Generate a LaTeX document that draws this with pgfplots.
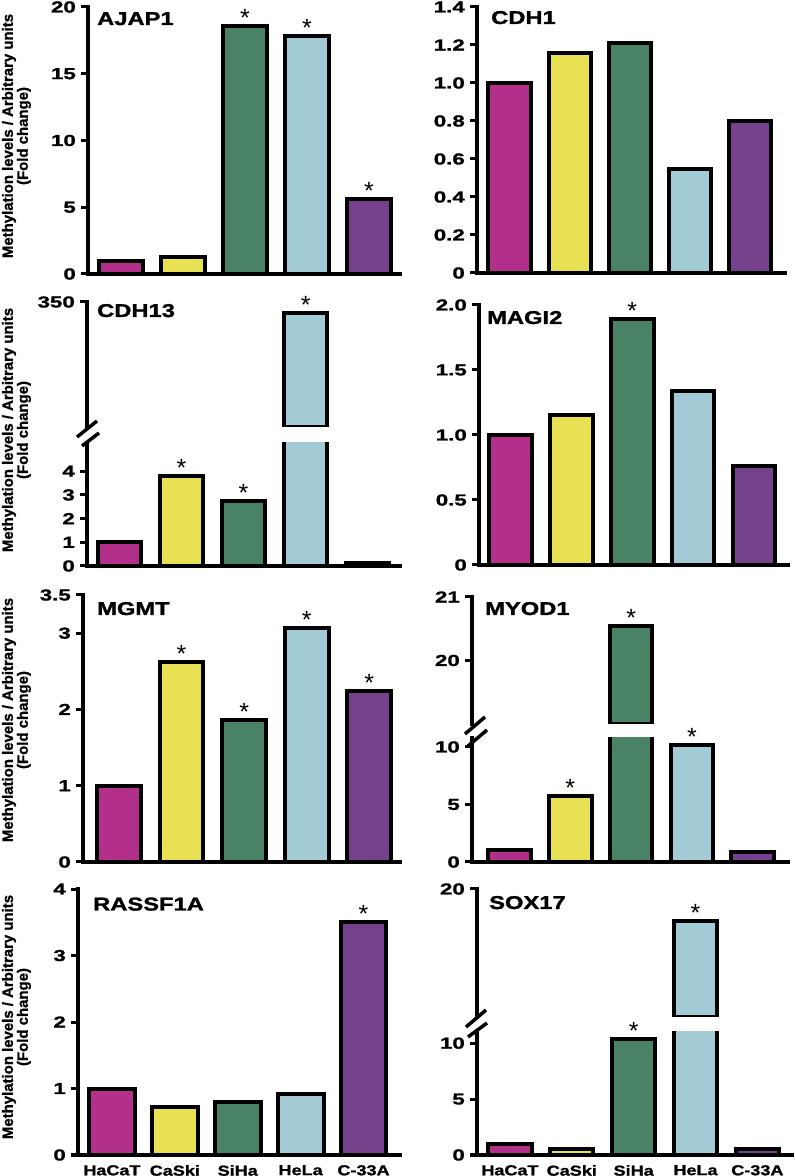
\documentclass[border=0pt]{standalone}
\usepackage{fontspec}
\setmainfont{Liberation Sans}
\newfontfamily\tickfont{Liberation Sans}[FakeStretch=1.4, FakeBold=1.2]
\newfontfamily\titlefont{Liberation Sans}[FakeStretch=1.28, FakeBold=1.5]
\newfontfamily\catfont{Liberation Sans}[FakeStretch=1.25, FakeBold=1.3]
\newfontfamily\labfont{Liberation Sans}[FakeBold=1.2]
\newfontfamily\astfont{Liberation Sans}
\usepackage{pgfplots}
\pgfplotsset{compat=1.18}
\definecolor{cHa}{RGB}{178,47,138}
\definecolor{cCa}{RGB}{232,225,84}
\definecolor{cSi}{RGB}{74,130,102}
\definecolor{cHe}{RGB}{162,203,213}
\definecolor{cC3}{RGB}{118,65,140}
\pgfplotsset{
  panel/.style={
    scale only axis, anchor=south west,
    axis x line=bottom, axis y line=left,
    axis line style={line width=4bp, -, line cap=rect},
    tick style={black, line width=3bp},
    major tick length=7bp, tick align=outside,
    xtick=\empty,
    yticklabel style={font=\tickfont\bfseries\fontsize{16}{16}\selectfont, inner sep=0pt, xshift=-5bp},
    /pgf/number format/assume math mode=true,
  },
  upper/.style={panel, axis x line=none},
  bottomrow/.style={xtick={0,1,2,3,4}, xticklabels={HaCaT,CaSki,SiHa,HeLa,C-33A},
    xtick style={draw=none},
    xticklabel style={font=\catfont\bfseries\fontsize{14.5}{14.5}\selectfont, inner sep=0pt, anchor=north, yshift=-3bp}},
  mybar/.style={ybar, bar width=0.70, bar shift=0pt, draw=black, line width=4bp, fill=#1},
  ast/.style={nodes near coords={*}, every node near coord/.append style={font=\astfont\fontsize{25}{25}\selectfont, inner sep=0pt, anchor=south, yshift=-2.5bp, text=black}},
}
\newcommand{\ttl}[3]{\node[anchor=base west, inner sep=0pt, font=\titlefont\bfseries\fontsize{18.6}{18.6}\selectfont] at (#1bp,#2bp) {#3};}
\newcommand{\ylab}[1]{\node[rotate=90, align=center, inner sep=0pt, font=\labfont\bfseries\fontsize{15}{15}\selectfont] at (16.5bp,#1bp) {Methylation levels / Arbitrary units\\(Fold change)};}
\begin{document}
\begin{tikzpicture}
\useasboundingbox (0bp,0bp) rectangle (795bp,1176bp);

% ---------- AJAP1
\begin{axis}[panel, at={(88bp,902bp)}, width=312bp, height=267bp, xmin=-0.53, xmax=4.5,
  ymin=0, ymax=20, ytick={0,5,10,15,20}, yticklabels={0,5,10,15,20}]
\addplot[mybar=cHa] coordinates {(0,1.0)};
\addplot[mybar=cCa] coordinates {(1,1.28)};
\addplot[mybar=cSi, ast] coordinates {(2,18.6)};
\addplot[mybar=cHe, ast] coordinates {(3,17.8)};
\addplot[mybar=cC3, ast] coordinates {(4,5.65)};
\end{axis}
\ttl{97}{1151}{AJAP1}
\ylab{1040}

% ---------- CDH1
\begin{axis}[panel, at={(477bp,903bp)}, width=308bp, height=266bp, xmin=-0.54, xmax=4.58,
  ymin=0, ymax=1.4, ytick={0,0.2,0.4,0.6,0.8,1.0,1.2,1.4}, yticklabels={0,0.2,0.4,0.6,0.8,1.0,1.2,1.4}]
\addplot[mybar=cHa] coordinates {(0,1.0)};
\addplot[mybar=cCa] coordinates {(1,1.16)};
\addplot[mybar=cSi] coordinates {(2,1.21)};
\addplot[mybar=cHe] coordinates {(3,0.545)};
\addplot[mybar=cC3] coordinates {(4,0.80)};
\end{axis}
\ttl{491}{1152}{CDH1}

% ---------- CDH13 (broken)
\begin{axis}[panel, at={(87bp,610bp)}, width=313bp, height=123bp, xmin=-0.523, xmax=4.52,
  ymin=0, ymax=5.19, ytick={0,1,2,3,4}, yticklabels={0,1,2,3,4}]
\addplot[mybar=cHa] coordinates {(0,1.0)};
\addplot[mybar=cCa, ast] coordinates {(1,3.78)};
\addplot[mybar=cSi, ast] coordinates {(2,2.75)};
\addplot[mybar=cHe] coordinates {(3,328)};
\addplot[mybar=cC3] coordinates {(4,0.12)};
\end{axis}
\begin{axis}[upper, at={(87bp,749bp)}, width=313bp, height=125bp, xmin=-0.523, xmax=4.52,
  ymin=100, ymax=350, ytick={350}, yticklabels={350}]
\addplot[mybar=cHe, ast] coordinates {(3,328)};
\end{axis}
\draw[line width=3.5bp] (77bp,739bp) -- (97bp,755bp);
\draw[line width=3.5bp] (82bp,730bp) -- (99bp,743bp);
\ttl{97}{859}{CDH13}
\ylab{746}

% ---------- MAGI2
\begin{axis}[panel, at={(479bp,611bp)}, width=309bp, height=260bp, xmin=-0.517, xmax=4.56,
  ymin=0, ymax=2, ytick={0,0.5,1,1.5,2}, yticklabels={0,0.5,1.0,1.5,2.0}]
\addplot[mybar=cHa] coordinates {(0,1.0)};
\addplot[mybar=cCa] coordinates {(1,1.155)};
\addplot[mybar=cSi, ast] coordinates {(2,1.895)};
\addplot[mybar=cHe] coordinates {(3,1.34)};
\addplot[mybar=cC3] coordinates {(4,0.765)};
\end{axis}
\ttl{487}{852}{MAGI2}

% ---------- MGMT
\begin{axis}[panel, at={(83bp,314bp)}, width=317bp, height=267bp, xmin=-0.575, xmax=4.49,
  ymin=0, ymax=3.5, ytick={0,1,2,3,3.5}, yticklabels={0,1,2,3,3.5}]
\addplot[mybar=cHa] coordinates {(0,1.0)};
\addplot[mybar=cCa, ast] coordinates {(1,2.62)};
\addplot[mybar=cSi, ast] coordinates {(2,1.86)};
\addplot[mybar=cHe, ast] coordinates {(3,3.07)};
\addplot[mybar=cC3, ast] coordinates {(4,2.24)};
\end{axis}
\ttl{97}{561}{MGMT}
\ylab{456}

% ---------- MYOD1 (broken)
\begin{axis}[panel, at={(472bp,314bp)}, width=316bp, height=124bp, xmin=-0.617, xmax=4.58,
  ymin=0, ymax=10.78, ytick={0,5,10}, yticklabels={0,5,10}]
\addplot[mybar=cHa] coordinates {(0,1.0)};
\addplot[mybar=cCa, ast] coordinates {(1,5.7)};
\addplot[mybar=cSi] coordinates {(2,20.54)};
\addplot[mybar=cHe, ast] coordinates {(3,10.2)};
\addplot[mybar=cC3] coordinates {(4,0.9)};
\end{axis}
\begin{axis}[upper, at={(472bp,452bp)}, width=316bp, height=127bp, xmin=-0.617, xmax=4.58,
  ymin=19, ymax=21, ytick={20,21}, yticklabels={20,21}]
\addplot[mybar=cSi, ast] coordinates {(2,20.54)};
\end{axis}
\draw[line width=3.5bp] (465bp,442bp) -- (485bp,459bp);
\draw[line width=3.5bp] (468bp,430bp) -- (487bp,446bp);
\ttl{485}{561}{MYOD1}

% ---------- RASSF1A
\begin{axis}[panel, bottomrow, at={(78bp,21bp)}, width=322bp, height=266bp, xmin=-0.54, xmax=4.58,
  ymin=0, ymax=4, ytick={0,1,2,3,4}, yticklabels={0,1,2,3,4}]
\addplot[mybar=cHa, bar width=0.73] coordinates {(0,1.0)};
\addplot[mybar=cCa, bar width=0.73] coordinates {(1,0.715)};
\addplot[mybar=cSi, bar width=0.73] coordinates {(2,0.79)};
\addplot[mybar=cHe, bar width=0.73] coordinates {(3,0.914)};
\addplot[mybar=cC3, bar width=0.73, ast] coordinates {(4,3.51)};
\end{axis}
\ttl{93}{265.5}{RASSF1A}
\ylab{159}

% ---------- SOX17 (broken)
\begin{axis}[panel, bottomrow, at={(477bp,21bp)}, width=315bp, height=123bp, xmin=-0.533, xmax=4.56,
  ymin=0, ymax=11.0, ytick={0,5,10}, yticklabels={0,5,10}]
\addplot[mybar=cHa] coordinates {(0,1.0)};
\addplot[mybar=cCa] coordinates {(1,0.52)};
\addplot[mybar=cSi, ast] coordinates {(2,10.4)};
\addplot[mybar=cHe] coordinates {(3,18.0)};
\addplot[mybar=cC3] coordinates {(4,0.52)};
\end{axis}
\begin{axis}[upper, at={(477bp,159bp)}, width=315bp, height=128bp, xmin=-0.533, xmax=4.56,
  ymin=12, ymax=20, ytick={20}, yticklabels={20}]
\addplot[mybar=cHe, ast] coordinates {(3,18.0)};
\end{axis}
\draw[line width=3.5bp] (466bp,149bp) -- (486bp,166bp);
\draw[line width=3.5bp] (468bp,139bp) -- (487bp,153bp);
\ttl{489}{267}{SOX17}
\end{tikzpicture}
\end{document}
